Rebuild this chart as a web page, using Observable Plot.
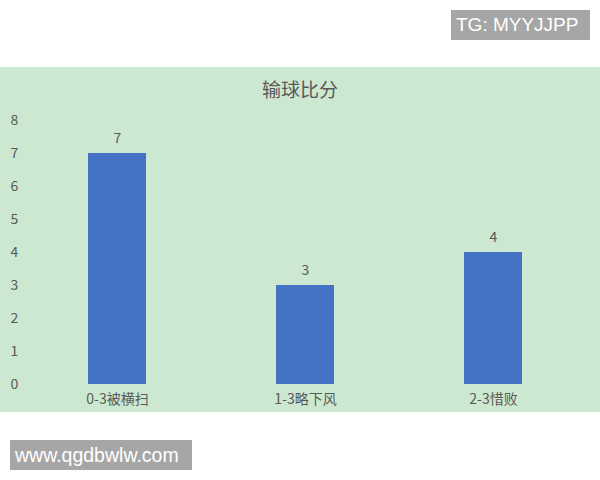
<!DOCTYPE html>
<html><head><meta charset="utf-8">
<script src="https://cdn.jsdelivr.net/npm/d3@7"></script>
<script src="https://cdn.jsdelivr.net/npm/@observablehq/plot@0.6"></script>
<style>
body{margin:0;background:#fff;}
#wrap{position:relative;width:600px;height:480px;overflow:hidden;background:#fff;font-family:"Noto Sans CJK SC","Noto Sans",sans-serif;}
#panel{position:absolute;left:0;top:67px;width:600px;height:345px;background:#cde8d0;}
#title{position:absolute;left:0;top:8px;width:600px;text-align:center;font-size:19px;color:#595959;}
.wm{position:absolute;background:#a6a6a6;color:#fff;font-family:"Liberation Sans",Arial,sans-serif;}
#tg{left:451px;top:10px;width:139px;height:30px;line-height:30px;font-size:19px;padding-left:5px;box-sizing:border-box;}
#www{left:10px;top:440px;width:182px;height:30px;line-height:30px;font-size:19.5px;padding-left:5px;box-sizing:border-box;}
#chart{position:absolute;left:0;top:0;}
</style></head>
<body>
<div id="wrap">
  <div id="panel"><div id="chart"></div><div id="title"></div></div>
  <div class="wm" id="tg">TG: MYYJJPP</div>
  <div class="wm" id="www">www.qgdbwlw.com</div>
</div>
<script>
const title = "输球比分";
const categories = ["0-3被横扫", "1-3略下风", "2-3惜败"];
const values = [7, 3, 4];
const yTicks = [0, 1, 2, 3, 4, 5, 6, 7, 8];

const data = categories.map((c, i) => ({cat: c, val: values[i]}));
document.getElementById("title").textContent = title;

const chart = Plot.plot({
  width: 600,
  height: 345,
  marginTop: 53,
  marginBottom: 28,
  marginLeft: 23,
  marginRight: 12,
  style: {background: "transparent", fontFamily: "'Noto Sans CJK SC','Noto Sans',sans-serif", fontSize: "14px", color: "#595959"},
  x: {domain: categories, paddingInner: 0.69, paddingOuter: 0.345, label: null},
  y: {domain: [0, 8], label: null},
  marks: [
    Plot.gridY(yTicks, {stroke: "#dcefdd", strokeOpacity: 1, x1: 30}),
    Plot.axisY(yTicks, {tickSize: 0, tickPadding: 13, textAnchor: "start", fill: "#595959", fontSize: 14, label: null}),
    Plot.axisX({tickSize: 0, tickPadding: 10, fill: "#595959", fontSize: 14, label: null}),
    Plot.barY(data, {x: "cat", y: "val", fill: "#4472C4"}),
    Plot.text(data, {x: "cat", y: "val", text: d => String(d.val), dy: -15, fill: "#595959", fontSize: 14})
  ]
});
document.getElementById("chart").appendChild(chart);
</script>
</body></html>
